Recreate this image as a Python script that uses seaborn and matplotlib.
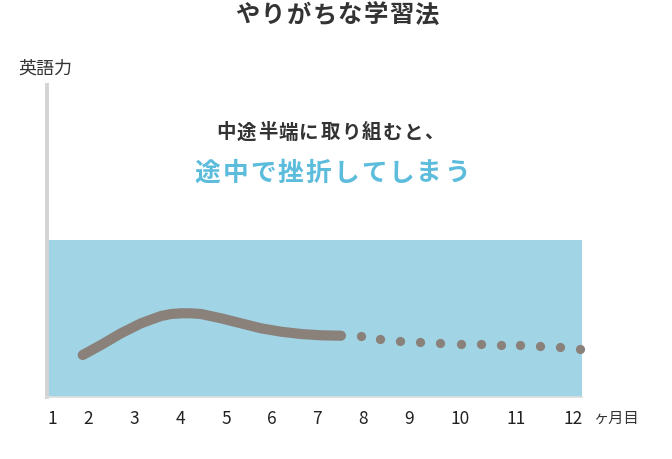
import matplotlib
matplotlib.use("Agg")
import matplotlib.pyplot as plt
import seaborn as sns
import pandas as pd

# ---- data ----
title = "やりがちな学習法"
y_label = "英語力"
x_unit = "ヶ月目"
note_1 = "中途半端に取り組むと、"
note_2 = "途中で挫折してしまう"

tick_labels = ["1", "2", "3", "4", "5", "6", "7", "8", "9", "10", "11", "12"]
tick_pos = [5, 41, 87, 133, 179, 225, 270, 316, 362, 413, 469, 526]

# solid part of the learning curve
curve_x = [35.7, 54, 74, 94, 114, 124, 134, 144, 154, 174, 194, 214, 234, 254, 274, 294]
curve_y = [42, 52, 63.7, 73.7, 81, 83, 83.7, 83.7, 83, 78.7, 73.7, 68.7, 65.3, 63, 61.7, 61.3]

# dotted continuation
dots_x = [314, 333.3, 353, 373, 393, 413.7, 433.7, 453.7, 473.3, 493.3, 513.3, 533.3]
dots_y = [61, 58.3, 56, 54.7, 53.7, 53, 52.7, 52.3, 51.7, 51.3, 50.3, 48]

band_top = 157

# ---- style ----
sns.set_theme(style="white")
plt.rcParams["font.family"] = ["Noto Sans CJK JP", "DejaVu Sans"]

W, H = 672, 459
fig = plt.figure(figsize=(W / 100, H / 100), dpi=100)
fig.patch.set_facecolor("white")
ax = fig.add_axes([47 / W, 62 / H, 535 / W, 312 / H])
ax.set_facecolor("none")
ax.set_xlim(0, 535)
ax.set_ylim(0, 312)

BLUE_FILL = "#a1d4e4"
LINE_C = "#8a817b"
TEXT_C = "#333333"
BLUE_TXT = "#5bbcdc"

ax.axhspan(0, band_top, color=BLUE_FILL, zorder=0, lw=0)

df_curve = pd.DataFrame({"x": curve_x, "y": curve_y})
df_dots = pd.DataFrame({"x": dots_x, "y": dots_y})
sns.lineplot(data=df_curve, x="x", y="y", ax=ax, color=LINE_C, lw=7.3,
             solid_capstyle="round", solid_joinstyle="round", zorder=3)
sns.scatterplot(data=df_dots, x="x", y="y", ax=ax, color=LINE_C, s=44,
                linewidth=0, zorder=3, clip_on=False)

for s in ["top", "right"]:
    ax.spines[s].set_visible(False)
ax.spines["left"].set_color("#d3d3d3")
ax.spines["left"].set_linewidth(2.8)
ax.spines["bottom"].set_color("#dedede")
ax.spines["bottom"].set_linewidth(1.2)
ax.set_yticks([])
ax.set_xticks(tick_pos, tick_labels)
ax.tick_params(axis="x", length=0, pad=9, labelsize=12.5, labelcolor="#222222")
ax.set_xlabel("")
ax.set_ylabel("")


def spaced(text, x0, y, step, **kw):
    for i, ch in enumerate(text):
        fig.text((x0 + i * step) / W, 1 - y / H, ch, ha="center", va="center", **kw)


spaced(title, 247.5, 15.5, 25.6, fontsize=17.5, fontweight="bold", color=TEXT_C)
spaced(note_1, 226, 133, 20.8, fontsize=14, fontweight="bold", color=TEXT_C)
spaced(note_2, 207.5, 173, 27.7, fontsize=18.5, fontweight="bold", color=BLUE_TXT)
fig.text(45.5 / W, 1 - 69 / H, y_label, ha="center", va="center", fontsize=13, color=TEXT_C)
fig.text(593 / W, 1 - 418 / H, x_unit, ha="left", va="center", fontsize=11, color=TEXT_C)

fig.savefig("out.png", dpi=100)
